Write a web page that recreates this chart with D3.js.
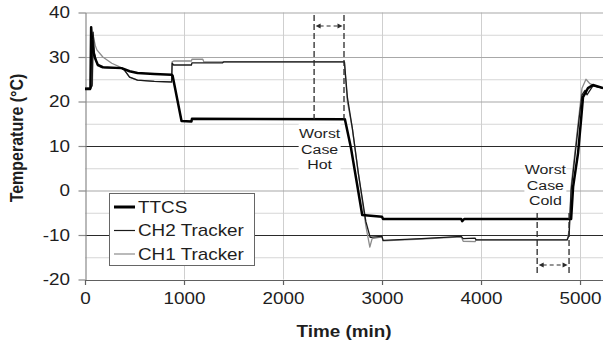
<!DOCTYPE html>
<html><head><meta charset="utf-8">
<script src="https://cdn.jsdelivr.net/npm/d3@7"></script>
<style>
html,body{margin:0;padding:0;background:#fff;}
svg{display:block;font-family:"Liberation Sans",Arial,sans-serif;}
</style></head>
<body><svg id="c" width="603" height="347"></svg>
<script>
// ---- data ----
const yTicks = [-20, -10, 0, 10, 20, 30, 40];
const xTicks = [0, 1000, 2000, 3000, 4000, 5000];
const seriesNames = ["TTCS", "CH2 Tracker", "CH1 Tracker"];

const ttcsTime = [0,50,55,62,70,85,100,130,180,370,450,530,700,875,885,975,1075,1080,2625,2686,2746,2800,3000,3010,3800,3810,3830,4910,4930,4980,5010,5030,5080,5130,5232];
const ttcsTemp = [22.8,22.8,23,36.7,34,31,29.8,28.2,27.7,27.5,26.8,26.4,26.2,26.0,25.8,15.6,15.5,16.1,16.0,9.6,1.7,-5.5,-5.9,-6.4,-6.4,-6.9,-6.4,-6.4,0.8,8.4,15.8,21,23,23.7,23];

const ch2Time = [0,55,72,82,95,120,160,200,370,400,450,530,700,875,880,895,1075,1080,1390,1400,2620,2650,2700,2760,2837,2880,2900,3000,3010,3400,3800,3820,3940,3950,4870,4890,4910,4950,4990,5020,5050,5070,5100,5130,5232];
const ch2Temp = [23,23,23.5,35.6,31,28.5,27.8,27.6,27.5,27,25.5,24.8,24.5,24.4,28.6,28.2,28.2,28.7,28.7,28.9,28.9,21,14,4,-7,-10.5,-10.5,-10.3,-11.2,-10.8,-10.3,-10.8,-10.7,-11.1,-11.1,-10,0,8,16,21.5,22.5,21.5,22.5,23.5,23];

const ch1Time = [0,55,75,85,95,105,120,180,270,350,370,400,450,530,700,875,880,895,1075,1080,1190,1200,1390,1400,2620,2650,2700,2760,2837,2877,2900,3000,3010,3400,3800,3820,3940,3950,4870,4890,4910,4950,4990,5020,5060,5100,5150,5232];
const ch1Temp = [23,23,24,34.5,33.5,32.5,31.6,30,28.6,27.8,27.5,27,25.5,24.8,24.5,24.3,28.9,29.1,29.1,29.5,29.5,28.9,28.9,28.9,28.9,20,14,4,-8,-12.7,-10.8,-10.4,-11.3,-10.9,-10.4,-11.4,-11.5,-11.1,-11.1,-9,1,9,17,23,25,24,23.5,23];

const hotWindow = [2314, 2616];
const coldWindow = [4567, 4889];
const hotLabel = ["Worst", "Case", "Hot"];
const coldLabel = ["Worst", "Case", "Cold"];

// ---- chart ----
const SX = 1.18; // horizontal stretch of text glyphs
const svg = d3.select("#c");
const x = d3.scaleLinear().domain([0, 5232]).range([85, 603]);
const y = d3.scaleLinear().domain([-20, 40]).range([279.5, 12.5]);
const fmt = d => String(d);

svg.append("defs").append("clipPath").attr("id","clip")
  .append("rect").attr("x",85).attr("y",0).attr("width",518).attr("height",281);

// grid
const g = svg.append("g");
const minor = d3.range(-15, 40, 10);
g.selectAll(".mn").data(minor).join("line")
  .attr("x1",85).attr("x2",603).attr("y1",d=>y(d)+0.5).attr("y2",d=>y(d)+0.5)
  .attr("stroke","#d6d6d6").attr("stroke-width",1);
g.selectAll(".vg").data(xTicks.slice(1)).join("line")
  .attr("x1",d=>Math.round(x(d))+0.5).attr("x2",d=>Math.round(x(d))+0.5).attr("y1",y(40)).attr("y2",y(-20))
  .attr("stroke","#cfcfcf").attr("stroke-width",1);
g.selectAll(".mj").data(yTicks.slice(1)).join("line")
  .attr("x1",85).attr("x2",603).attr("y1",d=>y(d)+0.5).attr("y2",d=>y(d)+0.5)
  .attr("stroke",d=> (d===10||d===-10) ? "#2a2a2a" : "#a8a8a8").attr("stroke-width",1.2);

// axes
const ya = svg.append("g").attr("transform","translate(85.5,0)")
  .call(d3.axisLeft(y).tickValues(yTicks).tickSize(7).tickSizeOuter(0).tickFormat(fmt));
ya.select(".domain").attr("stroke","#8a8a8a").attr("stroke-width",1.2);
ya.selectAll(".tick line").attr("stroke","#8a8a8a").attr("stroke-width",1.2);
ya.selectAll(".tick text").attr("x",-15.5/SX).attr("transform",`scale(${SX},1)`)
  .attr("font-size","16px").attr("fill","#1e1e1e").attr("font-family","Liberation Sans, Arial, sans-serif");

const xa = svg.append("g").attr("transform","translate(0,280)")
  .call(d3.axisBottom(x).tickValues(xTicks).tickSize(5).tickSizeOuter(0).tickFormat(fmt));
xa.select(".domain").attr("stroke","#606060").attr("stroke-width",1.2);
xa.selectAll(".tick line").attr("stroke","#606060").attr("stroke-width",1.2);
xa.selectAll(".tick text").attr("y",13).attr("transform",`scale(${SX},1)`)
  .attr("font-size","16px").attr("fill","#1e1e1e").attr("font-family","Liberation Sans, Arial, sans-serif");

// series
const line = d3.line().x(d=>x(d[0])).y(d=>y(d[1]));
const zip = (a,b)=>a.map((t,i)=>[t,b[i]]);
const series = [
  {name:seriesNames[2], pts:zip(ch1Time,ch1Temp), color:"#8c8c8c", w:1.3},
  {name:seriesNames[1], pts:zip(ch2Time,ch2Temp), color:"#1a1a1a", w:1.3},
  {name:seriesNames[0], pts:zip(ttcsTime,ttcsTemp), color:"#000", w:2.5}
];
svg.append("g").attr("clip-path","url(#clip)").selectAll("path").data(series).join("path")
  .attr("d",d=>line(d.pts)).attr("fill","none").attr("stroke",d=>d.color)
  .attr("stroke-width",d=>d.w).attr("stroke-linejoin","round");

// annotations
function stext(parent, cx, by, str, size, weight){
  return parent.append("text").attr("transform",`translate(${cx},${by}) scale(${SX},1)`)
    .attr("text-anchor","middle").attr("font-size",size+"px").attr("font-weight",weight||"normal")
    .attr("fill","#1e1e1e").text(str);
}
function windowMarker(win, yTop, yBot, yArrow){
  const a = svg.append("g");
  win.forEach(t=>{
    a.append("line").attr("x1",x(t)).attr("x2",x(t)).attr("y1",yTop).attr("y2",yBot)
      .attr("stroke","#2a2a2a").attr("stroke-width",1.3).attr("stroke-dasharray","6,3");
  });
  const x0 = x(win[0])+1.5, x1 = x(win[1])-1.5;
  a.append("line").attr("x1",x0+4).attr("x2",x1-4).attr("y1",yArrow).attr("y2",yArrow)
    .attr("stroke","#2a2a2a").attr("stroke-width",1.1).attr("stroke-dasharray","4,3");
  a.append("path").attr("d",`M${x0},${yArrow}L${x0+5},${yArrow-2.5}L${x0+5},${yArrow+2.5}Z`).attr("fill","#2a2a2a");
  a.append("path").attr("d",`M${x1},${yArrow}L${x1-5},${yArrow-2.5}L${x1-5},${yArrow+2.5}Z`).attr("fill","#2a2a2a");
}
windowMarker(hotWindow, 15, y(16), 26);
windowMarker(coldWindow, 213, 276, 265);

function labelBox(cx, top, lines){
  const a = svg.append("g");
  a.append("rect").attr("x",cx-21).attr("y",top).attr("width",42).attr("height",49).attr("fill","#fff");
  lines.forEach((s,i)=> stext(a, cx, top+14.5+i*15.5, s, 13.5));
}
labelBox(x(2370), 123.5, hotLabel);
labelBox(x(4650), 159.5, coldLabel);

// legend
const lg = svg.append("g");
lg.append("rect").attr("x",109.5).attr("y",193.5).attr("width",145).attr("height",72)
  .attr("fill","#fff").attr("stroke","#666").attr("stroke-width",1);
const legendItems = [series[2], series[1], series[0]];
legendItems.forEach((s,i)=>{
  const yy = 207 + i*23.5;
  lg.append("line").attr("x1",114).attr("x2",135).attr("y1",yy).attr("y2",yy)
    .attr("stroke",s.color).attr("stroke-width",s.w>2?3:1.2);
  lg.append("text").attr("transform",`translate(138,${yy+5.8}) scale(${SX},1)`)
    .attr("font-size","16px").attr("fill","#1e1e1e").text(s.name);
});

// axis titles
stext(svg, 344, 337, "Time (min)", 16, "bold");
svg.append("text").attr("transform",`translate(23,138) scale(${SX},1) rotate(-90)`)
  .attr("text-anchor","middle").attr("font-size","16px").attr("font-weight","bold")
  .attr("fill","#1e1e1e").text("Temperature (°C)");
</script></body></html>
